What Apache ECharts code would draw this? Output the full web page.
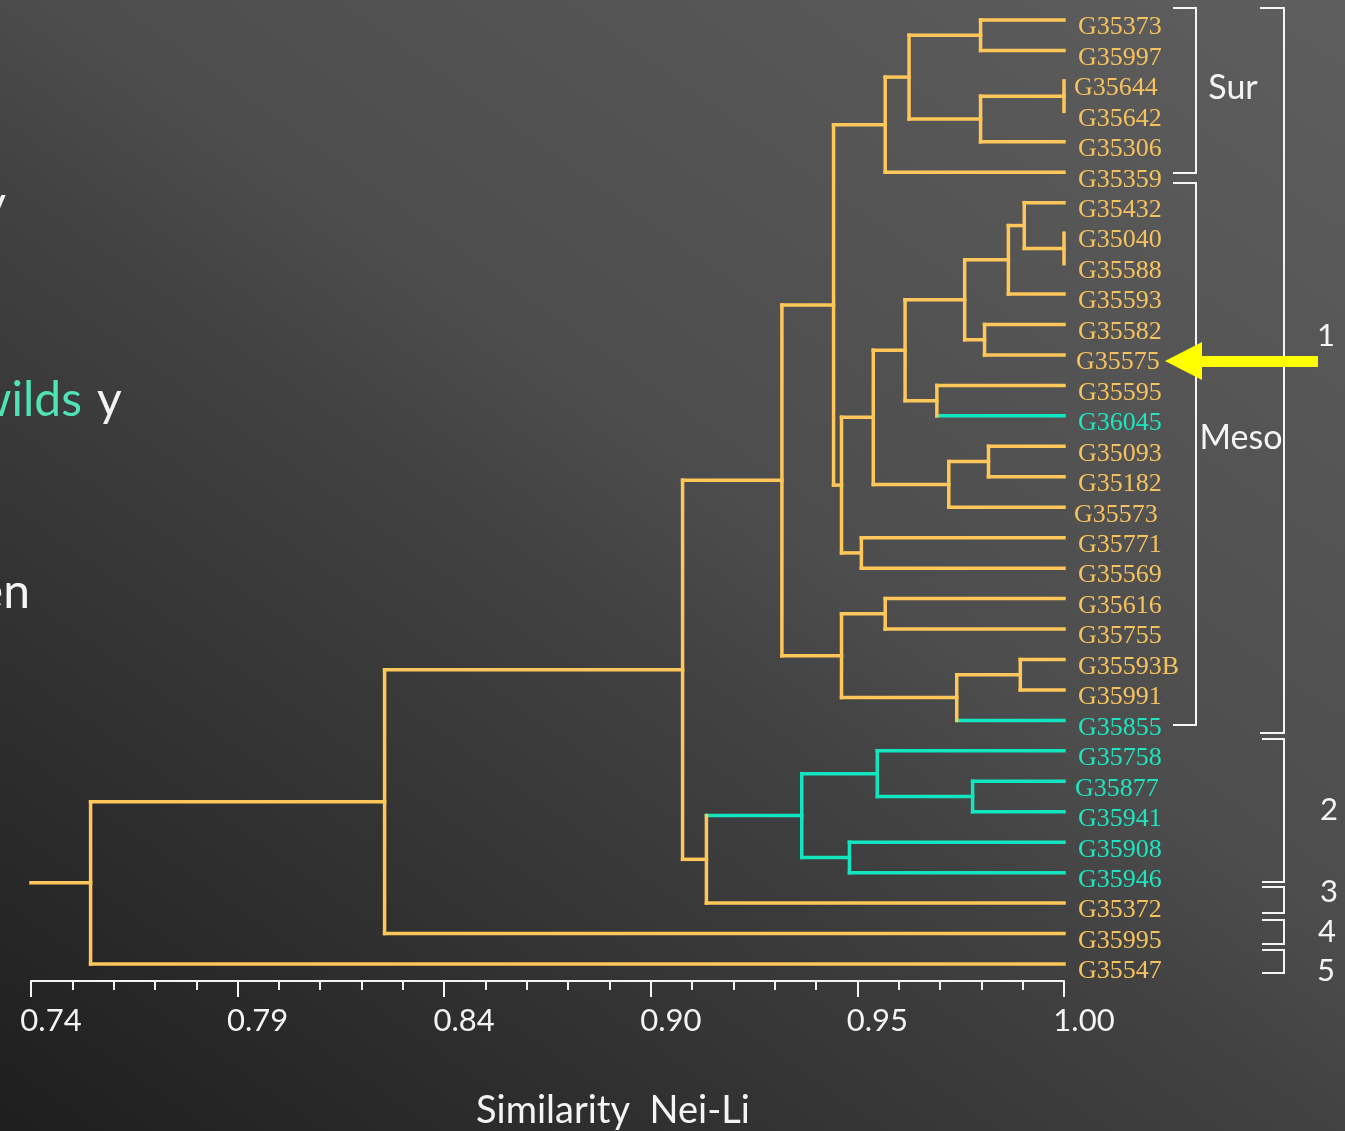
<!DOCTYPE html>
<html>
<head>
<meta charset="utf-8">
<script src="https://cdn.jsdelivr.net/npm/echarts@6/dist/echarts.min.js"></script>
<style>
  html, body { margin: 0; padding: 0; background: #333; }
  #chart { width: 1345px; height: 1131px; }
</style>
</head>
<body>
<div id="chart"></div>
<script>
// Accessions, in dendrogram order from top to bottom
const leafNames = [
  'G35373', 'G35997', 'G35644', 'G35642', 'G35306', 'G35359',
  'G35432', 'G35040', 'G35588', 'G35593', 'G35582', 'G35575',
  'G35595', 'G36045', 'G35093', 'G35182', 'G35573', 'G35771',
  'G35569', 'G35616', 'G35755', 'G35593B', 'G35991', 'G35855',
  'G35758', 'G35877', 'G35941', 'G35908', 'G35946', 'G35372',
  'G35995', 'G35547'
];

// Wild accessions (teal branches and names)
const wildLeaves = ['G36045', 'G35855', 'G35758', 'G35877', 'G35941', 'G35908', 'G35946'];

// Agglomeration steps: [left, right, Nei-Li similarity]; 'nK' is the K-th step
const mergeLeft = [
  'G35373', 'G35644', 'n2', 'n1', 'n4', 'G35040', 'G35432', 'n7', 'G35582', 'n8',
  'G35595', 'n10', 'G35093', 'n13', 'n12', 'G35771', 'n15', 'n5', 'G35616', 'G35593B',
  'n20', 'n19', 'n18', 'G35877', 'G35758', 'G35908', 'n25', 'n27', 'n23', 'n29', 'n30'
];
const mergeRight = [
  'G35997', 'G35642', 'G35306', 'n3', 'G35359', 'G35588', 'n6', 'G35593', 'G35575', 'n9',
  'G36045', 'n11', 'G35182', 'G35573', 'n14', 'G35569', 'n16', 'n17', 'G35755', 'G35991',
  'G35855', 'n21', 'n22', 'G35941', 'n24', 'G35946', 'n26', 'G35372', 'n28', 'G35995', 'G35547'
];
const mergeSimilarity = [
  0.979, 1.000, 0.979, 0.961, 0.955, 1.000, 0.990, 0.986, 0.980, 0.975,
  0.968, 0.960, 0.981, 0.971, 0.952, 0.949, 0.944, 0.942, 0.955, 0.989,
  0.973, 0.944, 0.929, 0.977, 0.953, 0.946, 0.934, 0.910, 0.904, 0.829, 0.755
];

// Similarity scale
const axisMin = 0.74;
const axisMax = 1.00;
const tickStep = 0.052;
const tickLabels = ['0.74', '0.79', '0.84', '0.90', '0.95', '1.00'];

// Group brackets on the right
const groupNames = ['Sur', 'Meso', '1', '2', '3', '4', '5'];

const GOLD = '#FFC65A';
const GOLD_TEXT = '#F6C25E';
const TEAL = '#12E6C0';
const TEAL_TEXT = '#1FE4C0';

// ---- build branch segments from the merge table ----
const nodes = {};
leafNames.forEach((n, i) => {
  nodes[n] = { y: i, sim: 1.0, wild: wildLeaves.indexOf(n) >= 0 };
});
const horizontals = [];
const verticals = [];
mergeSimilarity.forEach((s, k) => {
  const a = nodes[mergeLeft[k]];
  const b = nodes[mergeRight[k]];
  const node = { y: (a.y + b.y) / 2, sim: s, wild: a.wild && b.wild };
  [a, b].forEach(c => {
    if (c.sim > s) horizontals.push([s - axisMin, c.y, c.sim - axisMin, c.y, c.wild ? 1 : 0]);
  });
  verticals.push([s - axisMin, a.y, s - axisMin, b.y, node.wild ? 1 : 0]);
  nodes['n' + (k + 1)] = node;
});
const root = nodes['n' + mergeSimilarity.length];
horizontals.push([0, root.y, root.sim - axisMin, root.y, 0]);
const segments = horizontals.concat(verticals);

function renderSegment(params, api) {
  const p1 = api.coord([api.value(0), api.value(1)]);
  const p2 = api.coord([api.value(2), api.value(3)]);
  return {
    type: 'line',
    shape: { x1: p1[0], y1: p1[1], x2: p2[0], y2: p2[1] },
    style: { stroke: api.value(4) ? TEAL : GOLD, lineWidth: 3.5, lineCap: 'square' }
  };
}

// small horizontal nudges of a few names
const nameNudge = { G35644: -4, G35575: -2, G35573: -4, G35877: -3 };

function renderName(params, api) {
  const p = api.coord([api.value(0), api.value(1)]);
  const name = leafNames[params.dataIndex];
  return {
    type: 'text',
    x: p[0] + 14 + (nameNudge[name] || 0),
    y: p[1] + 7.5,
    style: {
      text: name,
      fill: api.value(2) ? TEAL_TEXT : GOLD_TEXT,
      font: '26px "Liberation Serif", "Times New Roman", serif',
      align: 'left',
      verticalAlign: 'middle'
    }
  };
}

const nameData = leafNames.map((n, i) => [axisMax - axisMin, i, wildLeaves.indexOf(n) >= 0 ? 1 : 0]);

// ---- annotation graphics ----
const WHITE = '#F4F4F4';
function bracket(x1, x2, y1, y2) {
  return {
    type: 'polyline',
    shape: { points: [[x1, y1], [x2, y1], [x2, y2], [x1, y2]] },
    style: { stroke: WHITE, lineWidth: 2, fill: null },
    silent: true
  };
}
function label(text, x, y, size, color, align) {
  return {
    type: 'text',
    x: x, y: y,
    style: {
      text: text, fill: color || WHITE,
      font: size + 'px Lato, "Noto Sans", sans-serif',
      align: align || 'center', verticalAlign: 'middle'
    },
    silent: true
  };
}

const graphics = [
  {
    type: 'rect', z: -100, silent: true,
    shape: { x: 0, y: 0, width: 1345, height: 1131 },
    style: {
      fill: new echarts.graphic.LinearGradient(0, 1131, 989, -254, [
        { offset: 0, color: '#1e1e1e' },
        { offset: 0.46, color: '#424242' },
        { offset: 0.56, color: '#4d4d4d' },
        { offset: 1, color: '#5e5e5e' }
      ], true)
    }
  },
  bracket(1173, 1196, 8, 173),
  bracket(1173, 1196, 183, 725),
  bracket(1260, 1284, 8, 733),
  bracket(1262, 1284, 739, 882),
  bracket(1262, 1284, 887, 913),
  bracket(1262, 1284, 920, 944),
  bracket(1262, 1284, 950, 973),
  label(groupNames[0], 1233, 88, 34),
  label(groupNames[1], 1241, 438, 34),
  label(groupNames[2], 1326, 336, 31),
  label(groupNames[3], 1329, 810, 31),
  label(groupNames[4], 1329, 892, 31),
  label(groupNames[5], 1327, 932, 31),
  label(groupNames[6], 1326, 971, 31),
  // arrow pointing at G35575
  {
    type: 'rect', silent: true,
    shape: { x: 1198, y: 356, width: 120, height: 11 },
    style: { fill: '#FFFF00' }
  },
  {
    type: 'polygon', silent: true,
    shape: { points: [[1165, 361], [1202, 342], [1202, 380]] },
    style: { fill: '#FFFF00' }
  },
  // slide text running in from the left
  label('y', 6, 205, 48, WHITE, 'right'),
  label('wilds', 82, 401, 48, '#4FE3B6', 'right'),
  label('y', 97, 401, 48, WHITE, 'left'),
  label('en', 30, 593, 48, WHITE, 'right'),
  // axis title
  label('Similarity  Nei-Li', 613, 1111, 38, WHITE, 'center')
];

const chart = echarts.init(document.getElementById('chart'), null, { renderer: 'canvas' });
chart.setOption({
  animation: false,
  backgroundColor: 'transparent',
  graphic: graphics,
  grid: { left: 31, right: 281, top: 20, bottom: 167, containLabel: false },
  xAxis: {
    type: 'value',
    position: 'bottom',
    min: 0,
    max: axisMax - axisMin,
    interval: tickStep,
    offset: 17,
    axisLine: { show: true, onZero: false, lineStyle: { color: WHITE, width: 2 } },
    axisTick: { show: true, length: 16, lineStyle: { color: WHITE, width: 2 } },
    minorTick: { show: true, splitNumber: 5, length: 9, lineStyle: { color: WHITE, width: 2 } },
    splitLine: { show: false },
    minorSplitLine: { show: false },
    axisLabel: {
      color: WHITE,
      fontSize: 31,
      fontFamily: 'Lato, "Noto Sans", sans-serif',
      margin: 24,
      padding: [0, 0, 0, 40],
      formatter: (v, i) => tickLabels[i]
    }
  },
  yAxis: {
    type: 'value',
    inverse: true,
    min: 0,
    max: leafNames.length - 1,
    show: false
  },
  series: [
    {
      type: 'custom',
      name: 'branches',
      renderItem: renderSegment,
      encode: { x: [0, 2], y: [1, 3] },
      data: segments,
      silent: true
    },
    {
      type: 'custom',
      name: 'accessions',
      renderItem: renderName,
      encode: { x: 0, y: 1 },
      data: nameData,
      silent: true
    }
  ]
});
</script>
</body>
</html>
